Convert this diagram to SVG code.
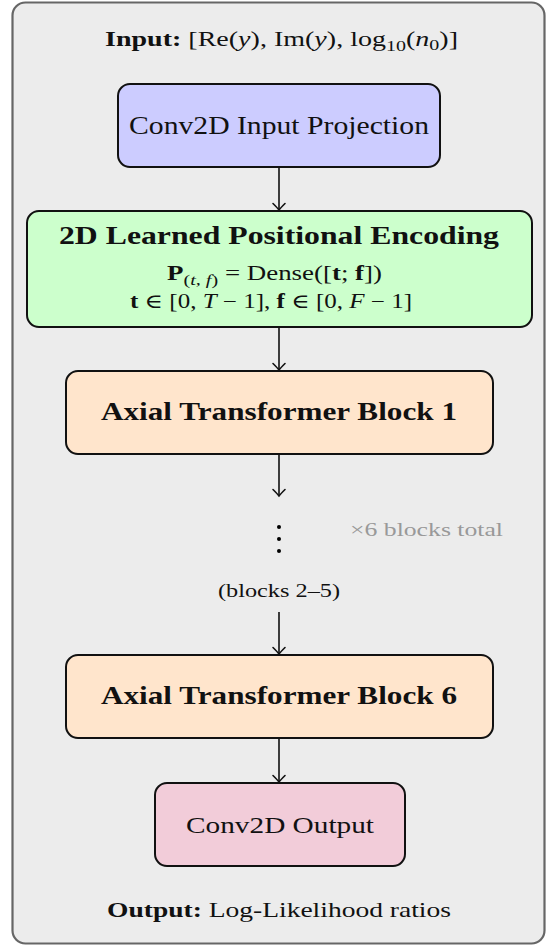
<svg xmlns="http://www.w3.org/2000/svg" width="551" height="948" viewBox="0 0 551 948">
  <style>
    text { font-family: "Liberation Serif", "DejaVu Serif", serif; fill: #111; }
    .b { font-weight: bold; }
    .i { font-style: italic; }
    .node { stroke: #111; stroke-width: 2; }
    .edge { stroke: #111; stroke-width: 1.6; fill: none; marker-end: url(#arrow); }
    .note { fill: #999; }
  </style>
  <defs>
    <marker id="arrow" markerUnits="userSpaceOnUse" viewBox="-8 -8 10 16" refX="0" refY="0" markerWidth="10" markerHeight="16" orient="auto">
      <path d="M -6.5 -6 Q -2 -1.5 0 0 Q -2 1.5 -6.5 6" fill="none" stroke="#111" stroke-width="1.6" stroke-linecap="round"/>
    </marker>
  </defs>

  <!-- background panel -->
  <rect x="12.5" y="2.5" width="532" height="941" rx="13" fill="#ececec" stroke="#666" stroke-width="2.2"/>

  <!-- input caption -->
  <text x="105" y="46" font-size="21" textLength="353" lengthAdjust="spacingAndGlyphs"><tspan class="b">Input:</tspan> [Re(<tspan class="i">y</tspan>), Im(<tspan class="i">y</tspan>), log<tspan font-size="15" dy="5">10</tspan><tspan dy="-5">(</tspan><tspan class="i">n</tspan><tspan font-size="15" dy="4">0</tspan><tspan dy="-4">)]</tspan></text>

  <g id="input-projection">
    <rect class="node" x="118" y="84" width="322" height="83" rx="12" fill="#ccccff"/>
    <text x="279" y="134" font-size="26" text-anchor="middle" textLength="300" lengthAdjust="spacingAndGlyphs">Conv2D Input Projection</text>
  </g>

  <g id="positional-encoding">
    <rect class="node" x="27" y="211" width="505" height="116" rx="12" fill="#ccffcc"/>
    <text class="b" x="279" y="244" font-size="26" text-anchor="middle" textLength="440" lengthAdjust="spacingAndGlyphs">2D Learned Positional Encoding</text>
    <text x="167" y="280" font-size="20" textLength="215" lengthAdjust="spacingAndGlyphs"><tspan class="b">P</tspan><tspan font-size="15" dy="5">(<tspan class="i">t</tspan>, <tspan class="i">f</tspan>)</tspan><tspan dy="-5"> = Dense([</tspan><tspan class="b">t</tspan>; <tspan class="b">f</tspan>])</text>
    <text x="130" y="308" font-size="20" textLength="282" lengthAdjust="spacingAndGlyphs"><tspan class="b">t</tspan> ∈ [0, <tspan class="i">T</tspan> − 1], <tspan class="b">f</tspan> ∈ [0, <tspan class="i">F</tspan> − 1]</text>
  </g>

  <g id="axial-block-1">
    <rect class="node" x="66" y="371" width="427" height="83" rx="12" fill="#ffe5cc"/>
    <text class="b" x="279" y="420" font-size="26" text-anchor="middle" textLength="356" lengthAdjust="spacingAndGlyphs">Axial Transformer Block 1</text>
  </g>

  <!-- repeated blocks elided -->
  <g id="elided-blocks">
    <circle cx="279" cy="527" r="2"/>
    <circle cx="279" cy="539" r="2"/>
    <circle cx="279" cy="551" r="2"/>
    <text class="note" x="350" y="536" font-size="18" textLength="153" lengthAdjust="spacingAndGlyphs">×6 blocks total</text>
    <text x="279" y="597" font-size="18" text-anchor="middle" textLength="122" lengthAdjust="spacingAndGlyphs">(blocks 2–5)</text>
  </g>

  <g id="axial-block-6">
    <rect class="node" x="66" y="655" width="427" height="83" rx="12" fill="#ffe5cc"/>
    <text class="b" x="279" y="704" font-size="26" text-anchor="middle" textLength="356" lengthAdjust="spacingAndGlyphs">Axial Transformer Block 6</text>
  </g>

  <g id="output-conv">
    <rect class="node" x="155" y="783" width="250" height="83" rx="12" fill="#f2ccd9"/>
    <text x="280" y="833" font-size="24" text-anchor="middle" textLength="188" lengthAdjust="spacingAndGlyphs">Conv2D Output</text>
  </g>

  <!-- output caption -->
  <text x="107" y="917" font-size="21" textLength="344" lengthAdjust="spacingAndGlyphs"><tspan class="b">Output:</tspan> Log-Likelihood ratios</text>

  <g id="connectors">
    <line class="edge" x1="279" y1="168" x2="279" y2="210"/>
    <line class="edge" x1="279" y1="328" x2="279" y2="370"/>
    <line class="edge" x1="279" y1="455" x2="279" y2="496"/>
    <line class="edge" x1="279" y1="612" x2="279" y2="654"/>
    <line class="edge" x1="279" y1="739" x2="279" y2="782"/>
  </g>
</svg>
